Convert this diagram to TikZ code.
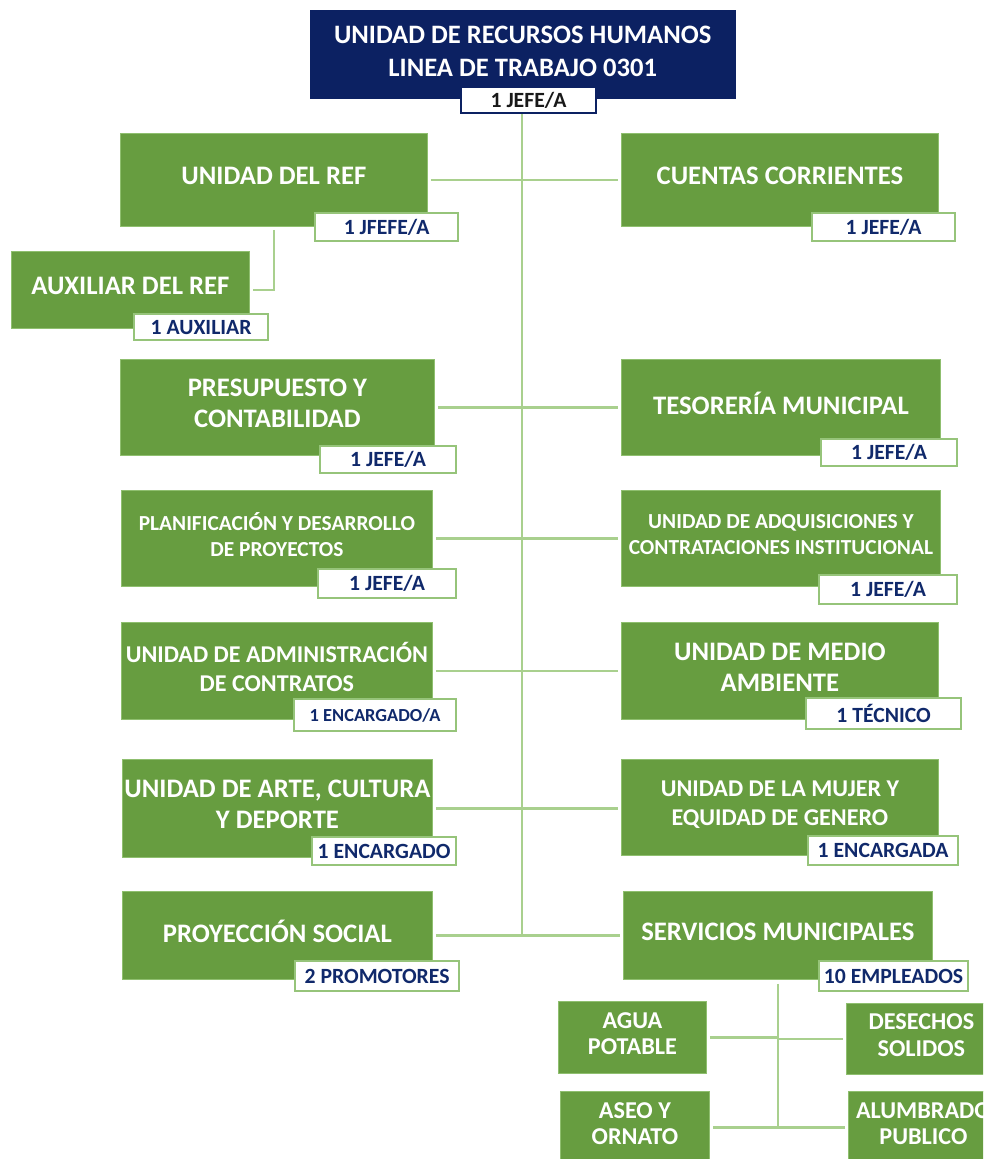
\documentclass[tikz,border=0pt]{standalone}
\usepackage{fontspec}
\setmainfont{Carlito}
\definecolor{navy}{HTML}{0C2162}
\definecolor{gfill}{HTML}{679D40}
\definecolor{gedge}{HTML}{8FBF6F}
\definecolor{ledge}{HTML}{96C47A}
\definecolor{lnavy}{HTML}{10296B}
\definecolor{cgreen}{HTML}{A9D08E}
\newcommand\fTop{\fontsize{26.6}{33}\selectfont\bfseries}
\newcommand\fL{\fontsize{26.7}{31}\selectfont\bfseries}
\newcommand\fM{\fontsize{24.1}{29}\selectfont\bfseries}
\newcommand\fS{\fontsize{21.4}{26}\selectfont\bfseries}
\newcommand\fT{\fontsize{24.2}{26.5}\selectfont\bfseries}
\newcommand\fLab{\fontsize{21.7}{22}\selectfont\bfseries}
\newcommand\fLabS{\fontsize{18.4}{20}\selectfont\bfseries}
\newcommand\lift[1]{\rule[-#1]{0pt}{#1}}
\tikzset{
  gbox/.style={draw=gedge, line width=0.8pt, fill=gfill, text=white, align=center, inner sep=2pt, anchor=north west, execute at end node={\lift{8pt}}},
  lbox/.style={draw=ledge, line width=2.2pt, fill=white, text=lnavy, anchor=north west, inner sep=0pt, font=\fLab},
  conn/.style={draw=cgreen, line width=2.6pt},
  gap/.style={shorten <=3pt, shorten >=3pt}
}
\newcommand\gb[6]{\node[gbox, minimum width=#3pt, minimum height=#4pt, font=#5] (#1) at (#2) {#6};}
\newcommand\lb[5]{\node[lbox, minimum width=#3pt, minimum height=#4pt] (#1) at (#2) {#5};}
\begin{document}
\begin{tikzpicture}[x=1pt,y=-1pt]
\useasboundingbox (0,0) rectangle (983,1159);
\clip (0,0) rectangle (983,1159);
% coordinates of the spine
\coordinate (spinetop) at (522,112);
\coordinate (spinebot) at (522,935);
\draw[conn] (spinetop) -- (spinebot);
% top
\node[draw=navy, fill=navy, text=white, align=center, anchor=north west, minimum width=425pt, minimum height=88pt, inner sep=0pt, font=\fTop, execute at end node={\lift{5pt}}] (top) at (310,10) {UNIDAD DE RECURSOS HUMANOS\\LINEA DE TRABAJO 0301};
\node[draw=navy, line width=2pt, fill=white, text=black!90, anchor=north west, minimum width=135pt, minimum height=26pt, inner sep=0pt, font=\fLab] (topl) at (460,86) {1 JEFE/A};
% row 1
\gb{ref}{120,133}{307}{93}{\fL}{UNIDAD DEL REF}
\gb{cc}{621,133}{317}{93}{\fL}{CUENTAS CORRIENTES}
\draw[conn,gap] (ref.east) -- (ref.east -| cc.west);
\lb{refl}{314,212}{143}{28}{1 JFEFE/A}
\lb{ccl}{811,212}{143}{28}{1 JEFE/A}
% aux
\node[gbox, minimum width=238pt, minimum height=77pt, font=\fL, execute at end node={\lift{3pt}}] (aux) at (11,251) {AUXILIAR DEL REF};
\draw[conn] ([xshift=24pt,yshift=-3pt]aux.east |- ref.south) -- ([xshift=24pt]aux.east) -- ([xshift=3pt]aux.east);
\lb{auxl}{133,313}{134}{26}{1 AUXILIAR}
% row 2
\gb{pre}{120,359}{314}{96}{\fL}{PRESUPUESTO Y\\CONTABILIDAD}
\gb{tes}{621,359}{319}{96}{\fL}{TESORERÍA MUNICIPAL}
\draw[conn,gap] (pre.east) -- (pre.east -| tes.west);
\lb{prel}{319,445}{136}{27}{1 JEFE/A}
\lb{tesl}{820,438}{136}{27}{1 JEFE/A}
% row 3
\gb{pla}{121,490}{311}{96}{\fS}{PLANIFICACIÓN Y DESARROLLO\\DE PROYECTOS}
\gb{adq}{621,490}{319}{96}{\fS}{UNIDAD DE ADQUISICIONES Y\\CONTRATACIONES INSTITUCIONAL}
\draw[conn,gap] (pla.east) -- (pla.east -| adq.west);
\lb{plal}{317,568}{138}{29}{1 JEFE/A}
\lb{adql}{818,574}{138}{29}{1 JEFE/A}
% row 4
\gb{adm}{121,622}{311}{97}{\fM}{UNIDAD DE ADMINISTRACIÓN\\DE CONTRATOS}
\gb{med}{621,622}{317}{97}{\fL}{UNIDAD DE MEDIO\\AMBIENTE}
\draw[conn,gap] (adm.east) -- (adm.east -| med.west);
\node[lbox, minimum width=162pt, minimum height=32pt, font=\fLabS] (adml) at (293,698) {1 ENCARGADO/A};
\lb{medl}{805,697}{155}{31}{1 TÉCNICO}
% row 5
\gb{art}{122,759}{310}{98}{\fL}{UNIDAD DE ARTE, CULTURA\\Y DEPORTE}
\gb{muj}{621,759}{317}{96}{\fM}{UNIDAD DE LA MUJER Y\\EQUIDAD DE GENERO}
\draw[conn,gap] (art.east) -- (art.east -| muj.west);
\lb{artl}{311,836}{144}{28}{1 ENCARGADO}
\lb{mujl}{807,835}{150}{29}{1 ENCARGADA}
% row 6
\gb{pro}{122,891}{310}{88}{\fL}{PROYECCIÓN SOCIAL}
\gb{ser}{623,891}{309}{88}{\fL}{SERVICIOS MUNICIPALES}
\draw[conn,gap] (pro.east) -- (pro.east -| ser.west);
\lb{prol}{294,960}{164}{30}{2 PROMOTORES}
\lb{serl}{818,960}{149}{30}{10 EMPLEADOS}
% sub units
\gb{agua}{558,1001}{148}{72}{\fT}{AGUA\\POTABLE}
\gb{des}{846,1003}{150}{71}{\fT}{DESECHOS\\SOLIDOS}
\gb{aseo}{560,1091}{149}{72}{\fT}{ASEO Y\\ORNATO}
\gb{alu}{848,1091}{150}{72}{\fT}{ALUMBRADO\\PUBLICO}
\coordinate (subbot) at (ser.south |- aseo.east);
\draw[conn] ([yshift=-4pt]ser.south) -- (subbot);
\draw[conn,shorten <=3pt] (agua.east) -- (agua.east -| ser.south);
\draw[conn,shorten >=3pt] (des.west -| ser.south) -- (des.west);
\draw[conn,shorten <=3pt] (aseo.east) -- (subbot);
\draw[conn,shorten >=3pt] (subbot) -- (alu.west);
\end{tikzpicture}
\end{document}
